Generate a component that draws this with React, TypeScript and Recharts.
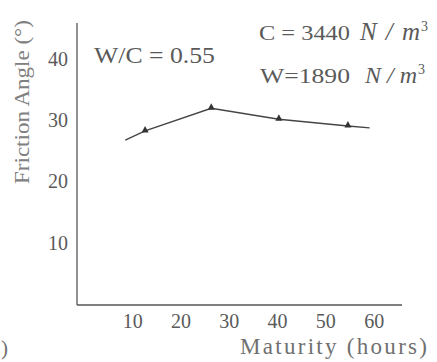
import React from 'react';
import { LineChart, Line, XAxis, YAxis } from 'recharts';

// maturity (hours) and friction angle (deg)
const maturity = [9.3, 13.4, 27.1, 41.1, 55.4, 59.9];
const frictionAngle = [26.9, 28.4, 32.1, 30.3, 29.2, 28.9];
const hasMarker = [false, true, true, true, true, false];
const xTicks = [10, 20, 30, 40, 50, 60];
const yTicks = [10, 20, 30, 40];

const data = maturity.map((m, i) => ({ m, phi: frictionAngle[i], mark: hasMarker[i] }));

const FONT = '"Liberation Serif", "DejaVu Serif", serif';
const INK = '#5a5a5a';
const FIT = 'spacingAndGlyphs';

const Triangle = (props: any) => {
  const { cx, cy, payload } = props;
  if (!payload || !payload.mark) return null;
  return <path d={`M${cx},${cy - 5} L${cx + 3.5},${cy + 1.5} L${cx - 3.5},${cy + 1.5} Z`} fill="#333" />;
};

const XTick = (props: any) => {
  const { x, y, payload } = props;
  return (
    <text x={x + 4} y={y + 15} textAnchor="middle" fontFamily={FONT} fontSize={20} fill={INK}>
      {payload.value}
    </text>
  );
};

const YTick = (props: any) => {
  const { x, y, payload } = props;
  return (
    <text x={x - 1} y={y + 6} textAnchor="end" fontFamily={FONT} fontSize={20} fill={INK}>
      {payload.value}
    </text>
  );
};

export default function App() {
  return (
    <div style={{ position: 'absolute', left: 0, top: 0, background: '#fff' }}>
      <LineChart width={437} height={362} data={data} margin={{ top: 23, right: 35, left: 0, bottom: 0 }}>
        <XAxis
          type="number"
          dataKey="m"
          domain={[-0.7, 66.6]}
          ticks={xTicks}
          tickLine={false}
          height={57}
          stroke="#555"
          strokeWidth={1.3}
          tick={<XTick />}
          allowDataOverflow
        />
        <YAxis
          type="number"
          domain={[0, 46]}
          ticks={yTicks}
          tickLine={false}
          width={77}
          stroke="#555"
          strokeWidth={1.3}
          tick={<YTick />}
          allowDataOverflow
        />
        <Line
          type="linear"
          dataKey="phi"
          stroke="#444"
          strokeWidth={1.4}
          dot={<Triangle />}
          activeDot={false}
          isAnimationActive={false}
        />
        <text x={29} y={184} transform="rotate(-90 29 184)" textLength={164} lengthAdjust={FIT} fontFamily={FONT} fontSize={20} fill="#808080">
          Friction Angle (°)
        </text>
        <text x={240} y={354} textLength={187} lengthAdjust="spacing" fontFamily={FONT} fontSize={23} fill="#707070">
          Maturity (hours)
        </text>
        <text x={1} y={355} fontFamily={FONT} fontSize={21} fill="#707070">)</text>
        <text x={94} y={63} textLength={121} lengthAdjust={FIT} fontFamily={FONT} fontSize={23} fill={INK}>W/C = 0.55</text>
        <text x={259} y={40} textLength={91} lengthAdjust={FIT} fontFamily={FONT} fontSize={22} fill={INK}>C = 3440</text>
        <text x={360} y={40} textLength={60} lengthAdjust="spacing" fontFamily={FONT} fontSize={25} fontStyle="italic" fill={INK}>N/m</text>
        <text x={421} y={31} fontFamily={FONT} fontSize={14} fill={INK}>3</text>
        <text x={260} y={83} textLength={90} lengthAdjust={FIT} fontFamily={FONT} fontSize={22} fill={INK}>W=1890</text>
        <text x={365} y={83} textLength={52} lengthAdjust="spacing" fontFamily={FONT} fontSize={24} fontStyle="italic" fill={INK}>N/m</text>
        <text x={418} y={74} fontFamily={FONT} fontSize={14} fill={INK}>3</text>
      </LineChart>
    </div>
  );
}
